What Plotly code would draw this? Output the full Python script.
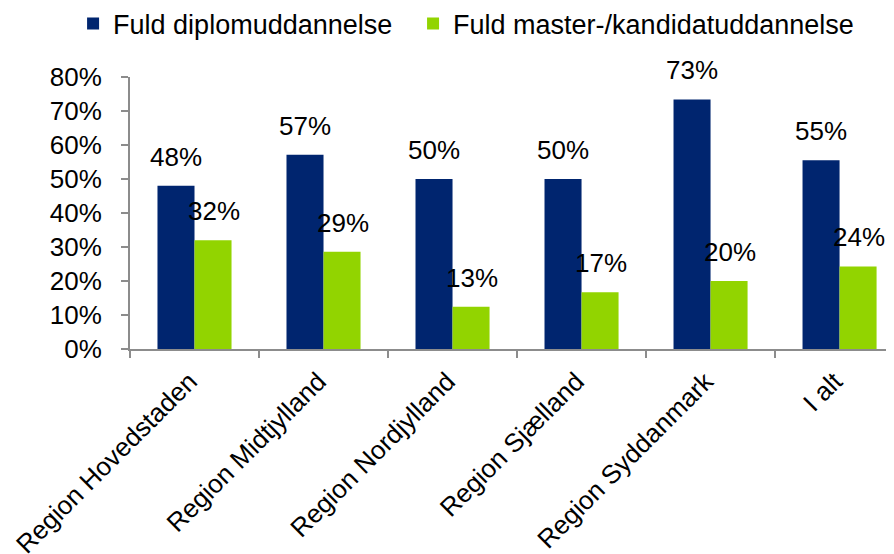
import plotly.graph_objects as go

categories = ["Region Hovedstaden", "Region Midtjylland", "Region Nordjylland",
              "Region Sjælland", "Region Syddanmark", "I alt"]
diplom = [0.48, 0.571, 0.50, 0.50, 0.734, 0.555]
master = [0.32, 0.286, 0.124, 0.167, 0.20, 0.243]
diplom_labels = ["48%", "57%", "50%", "50%", "73%", "55%"]
master_labels = ["32%", "29%", "13%", "17%", "20%", "24%"]
series_names = ["Fuld diplomuddannelse", "Fuld master-/kandidatuddannelse"]
y_ticks = [0, 0.1, 0.2, 0.3, 0.4, 0.5, 0.6, 0.7, 0.8]

BLUE = "#00256F"
GREEN = "#92D400"
FONT = "Liberation Sans, Arial, sans-serif"

fig = go.Figure()
fig.add_trace(go.Bar(x=categories, y=diplom, name=series_names[0], legend="legend",
                     marker=dict(color=BLUE, line=dict(width=0))))
fig.add_trace(go.Bar(x=categories, y=master, name=series_names[1], legend="legend2",
                     marker=dict(color=GREEN, line=dict(width=0))))

annotations = []
for c, v, t in zip(categories, diplom, diplom_labels):
    annotations.append(dict(x=c, y=v, text=t, xref="x", yref="y", showarrow=False,
                            yanchor="bottom", xanchor="center", xshift=-19, yshift=12,
                            font=dict(size=26, color="black", family=FONT)))
for c, v, t in zip(categories, master, master_labels):
    annotations.append(dict(x=c, y=v, text=t, xref="x", yref="y", showarrow=False,
                            yanchor="bottom", xanchor="center", xshift=19, yshift=12,
                            font=dict(size=26, color="black", family=FONT)))

legend_common = dict(orientation="h", yanchor="middle", xanchor="left",
                     font=dict(size=27, family=FONT, color="black"),
                     bgcolor="rgba(0,0,0,0)")

# The page body adds an 8px offset, so the figure is sized/margined to compensate.
fig.update_layout(
    width=886, height=546,
    margin=dict(l=122, r=0, t=69, b=205, autoexpand=False),
    paper_bgcolor="white", plot_bgcolor="white",
    font=dict(family=FONT, size=26, color="black"),
    barmode="group", bargap=0.426, bargroupgap=0,
    showlegend=True,
    legend=dict(x=-0.0745, y=1.195, **legend_common),
    legend2=dict(x=0.3705, y=1.195, **legend_common),
    annotations=annotations,
)
fig.update_xaxes(range=[-0.5, 5.422], showline=True, linecolor="#8C8C8C", linewidth=2,
                 ticks="outside", tickson="boundaries", ticklen=7, tickcolor="#8C8C8C",
                 tickwidth=2, tickangle=-45, showgrid=False, zeroline=False,
                 automargin=False, ticklabelstandoff=5, ticklabelshift=-5,
                 tickfont=dict(size=26, family=FONT, color="black"))
fig.update_yaxes(range=[0, 0.8], tickvals=y_ticks, tickformat=".0%", showline=True,
                 linecolor="#8C8C8C", linewidth=2, ticks="outside", ticklen=7,
                 tickcolor="#8C8C8C", tickwidth=2, showgrid=False, zeroline=False,
                 ticklabelstandoff=14, automargin=False,
                 tickfont=dict(size=26, family=FONT, color="black"))

fig.write_html("out.html")
